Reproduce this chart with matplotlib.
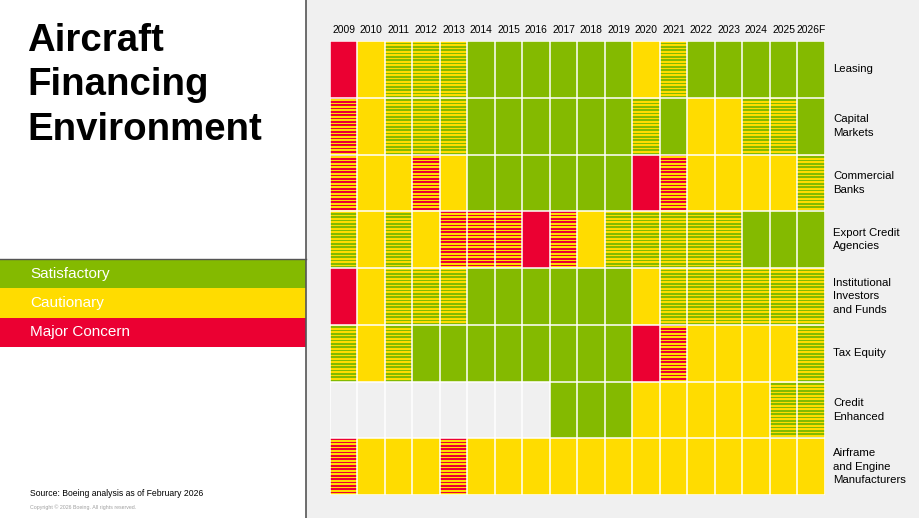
import matplotlib
matplotlib.use("Agg")
import matplotlib.pyplot as plt
from matplotlib.patches import Rectangle
from matplotlib.collections import PatchCollection

plt.rcParams['font.family'] = ['Liberation Sans', 'DejaVu Sans']

years = ["2009", "2010", "2011", "2012", "2013", "2014", "2015", "2016", "2017",
         "2018", "2019", "2020", "2021", "2022", "2023", "2024", "2025", "2026F"]
rows = ["Leasing", "Capital\nMarkets", "Commercial\nBanks", "Export Credit\nAgencies",
        "Institutional\nInvestors\nand Funds", "Tax Equity", "Credit\nEnhanced",
        "Airframe\nand Engine\nManufacturers"]

# G=satisfactory, Y=cautionary, R=major concern, GY / YR = mixed (striped), N = no data
leasing       = ["R", "Y", "GY", "GY", "GY", "G", "G", "G", "G", "G", "G", "Y", "GY", "G", "G", "G", "G", "G"]
capital_mkts  = ["YR", "Y", "GY", "GY", "GY", "G", "G", "G", "G", "G", "G", "GY", "G", "Y", "Y", "GY", "GY", "G"]
comm_banks    = ["YR", "Y", "Y", "YR", "Y", "G", "G", "G", "G", "G", "G", "R", "YR", "Y", "Y", "Y", "Y", "GY"]
export_credit = ["GY", "Y", "GY", "Y", "YR", "YR", "YR", "R", "YR", "Y", "GY", "GY", "GY", "GY", "GY", "G", "G", "G"]
institutional = ["R", "Y", "GY", "GY", "GY", "G", "G", "G", "G", "G", "G", "Y", "GY", "GY", "GY", "GY", "GY", "GY"]
tax_equity    = ["GY", "Y", "GY", "G", "G", "G", "G", "G", "G", "G", "G", "R", "YR", "Y", "Y", "Y", "Y", "GY"]
credit_enh    = ["N", "N", "N", "N", "N", "N", "N", "N", "G", "G", "G", "Y", "Y", "Y", "Y", "Y", "GY", "GY"]
airframe      = ["YR", "Y", "Y", "Y", "YR", "Y", "Y", "Y", "Y", "Y", "Y", "Y", "Y", "Y", "Y", "Y", "Y", "Y"]
grid = [leasing, capital_mkts, comm_banks, export_credit, institutional, tax_equity, credit_enh, airframe]

legend_labels = ["Satisfactory", "Cautionary", "Major Concern"]

GREEN = "#84BA00"
YELLOW = "#FFDC00"
RED = "#EB0032"
BG = "#F0F0F0"
cmap = {"G": GREEN, "Y": YELLOW, "R": RED, "N": BG}

W, H = 920, 518
fig = plt.figure(figsize=(W / 100, H / 100), dpi=100)
fig.patch.set_facecolor(BG)

def fx(px):
    return px / W

def fy(py):
    return 1 - py / H

# left white panel
fig.patches.append(Rectangle((0, 0), fx(306), 1, transform=fig.transFigure,
                             facecolor="white", edgecolor="none", zorder=0))
fig.lines.append(plt.Line2D([fx(306.5), fx(306.5)], [0, 1], transform=fig.transFigure,
                            color="#555555", lw=1.2))

fig.text(fx(27), fy(23), "Aircraft\nFinancing\nEnvironment", fontsize=27.6, fontweight="bold",
         va="top", ha="left", linespacing=1.3, color="black")

leg_colors = [GREEN, YELLOW, RED]
leg_top = 259
leg_h = 29.3
for i, (lab, c) in enumerate(zip(legend_labels, leg_colors)):
    y0 = leg_top + i * leg_h
    fig.patches.append(Rectangle((0, fy(y0 + leg_h)), fx(306), leg_h / H, transform=fig.transFigure,
                                 facecolor=c, edgecolor="none", zorder=1))
    fig.text(fx(30), fy(y0 + leg_h / 2), lab, color="white", fontsize=11, va="center", ha="left")
fig.lines.append(plt.Line2D([0, fx(306)], [fy(259), fy(259)], transform=fig.transFigure,
                            color="#555555", lw=1.0))

fig.text(fx(30), fy(493), "Source: Boeing analysis as of February 2026", fontsize=6.2,
         va="center", ha="left", color="black")
fig.text(fx(30), fy(507), "Copyright \u00a9 2026 Boeing. All rights reserved.", fontsize=3.8,
         va="center", ha="left", color="#a0a0a0")

# grid axes
gx0, gx1, gy0, gy1 = 330, 825, 41, 495
ax = fig.add_axes([fx(gx0), fy(gy1), fx(gx1 - gx0), (gy1 - gy0) / H])
ax.set_xlim(0, len(years))
ax.set_ylim(len(rows), 0)
ax.axis("off")

cell_px = (gy1 - gy0) / len(rows)
n_per = int(round(cell_px / 3.3))
patches, colors = [], []
for r, rowvals in enumerate(grid):
    for c, v in enumerate(rowvals):
        if len(v) == 1:
            patches.append(Rectangle((c, r), 1, 1))
            colors.append(cmap[v])
        else:
            a, b = cmap[v[0]], cmap[v[1]]
            step = 1.0 / n_per
            for k in range(n_per):
                patches.append(Rectangle((c, r + k * step), 1, step / 2))
                colors.append(b)
                patches.append(Rectangle((c, r + k * step + step / 2), 1, step / 2))
                colors.append(a)
pc = PatchCollection(patches, facecolors=colors, edgecolors="none", antialiased=False)
ax.add_collection(pc)

for c in range(len(years) + 1):
    ax.axvline(c, color="white", lw=1.1)
for r in range(len(rows) + 1):
    ax.axhline(r, color="white", lw=1.1)

for c, yr in enumerate(years):
    ax.text(c + 0.5, -0.19, yr, ha="center", va="center", fontsize=7.4, color="black", clip_on=False)

for r, lab in enumerate(rows):
    ax.text(len(years) + 0.3, r + 0.5, lab, ha="left", va="center", fontsize=8.2, color="black",
            linespacing=1.45, clip_on=False)

fig.savefig("out.png", dpi=100, facecolor=fig.get_facecolor())
